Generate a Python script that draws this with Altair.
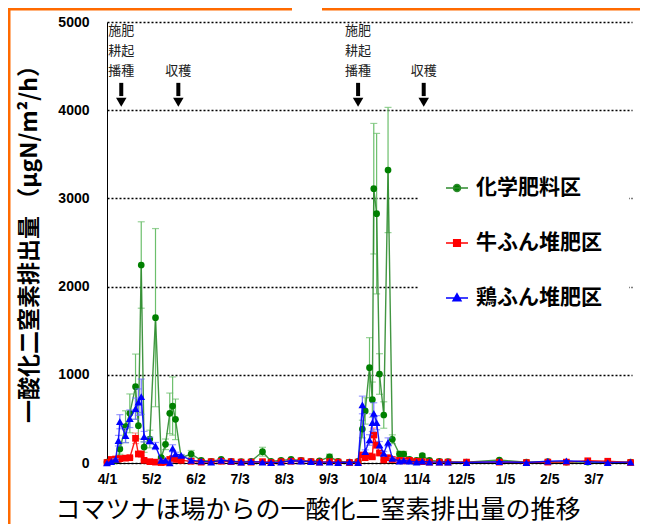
import altair as alt
import pandas as pd

# ---------------- data ----------------
days = [0, 3, 6, 8, 9, 13, 16, 20, 22, 24, 26, 30, 34, 38, 41, 44, 46, 48, 52, 59,
        66, 73, 80, 87, 94, 101, 109, 115, 122, 129, 136, 143, 149, 156, 162, 170,
        176, 179, 181, 184, 186, 187, 189, 191, 194, 197, 200, 205, 208, 212, 217,
        221, 226, 233, 239, 252, 275, 294, 309, 322, 337, 351, 367]

chem = [10, 20, 30, 40, 159, 412, 563, 865, 423, 2245, 181, 272, 1648, 60, 212,
        563, 646, 495, 60, 102, 30, 20, 40, 20, 15, 20, 128, 20, 30, 40,
        30, 20, 25, 70, 20, 10, 20, 385, 590, 1081, 718, 3110, 2827, 1009, 544,
        3322, 269, 102, 102, 40, 30, 83, 30, 20, 15, 10, 34, 10, 15, 10,
        10, 10, 10]
chem_err = [0, 0, 0, 10, 60, 180, 220, 370, 150, 490, 60, 100, 1010, 10, 60,
            230, 330, 230, 30, 40, 10, 10, 10, 10, 0, 0, 50, 0, 10, 10,
            10, 10, 10, 30, 10, 0, 10, 100, 150, 340, 200, 740, 910, 230, 150,
            710, 50, 30, 30, 10, 10, 20, 10, 10, 0, 0, 10, 0, 0, 0,
            0, 0, 0]

cow = [5, 40, 45, 45, 50, 55, 60, 280, 102, 102, 30, 15, 10, 5, 10,
       40, 50, 40, 30, 20, 10, 15, 20, 15, 10, 10, 15, 5, 15, 20,
       25, 15, 10, 15, 10, 5, 10, 91, 60, 80, 70, 317, 204, 113, 34,
       60, 40, 30, 25, 30, 20, 15, 10, 10, 10, 10, 10, 5, 10, 10,
       25, 20, 5]
cow_err = [0, 5, 5, 5, 5, 5, 10, 60, 20, 20, 5, 0, 0, 0, 0,
           10, 10, 10, 5, 5, 0, 0, 5, 0, 0, 0, 0, 0, 0, 5,
           5, 0, 0, 0, 0, 0, 0, 20, 10, 20, 15, 80, 40, 20, 5,
           10, 5, 5, 5, 5, 0, 0, 0, 0, 0, 0, 0, 0, 0, 0,
           5, 0, 0]

chicken = [0, 15, 40, 253, 468, 310, 502, 616, 690, 752, 298, 253, 193, 30, 30,
           0, 167, 102, 87, 30, 20, 10, 30, 20, 10, 15, 10, 5, 10, 25,
           20, 15, 10, 10, 5, 10, 5, 658, 128, 261, 457, 563, 457, 204, 110,
           235, 53, 20, 30, 20, 10, 20, 10, 10, 10, 5, 15, 5, 20, 25,
           15, 5, 10]
chicken_err = [0, 0, 10, 60, 80, 80, 100, 120, 150, 200, 60, 40, 40, 5, 5,
               10, 40, 20, 10, 5, 0, 0, 5, 0, 0, 0, 0, 0, 0, 5,
               5, 0, 0, 0, 0, 0, 0, 100, 20, 60, 100, 120, 80, 40, 20,
               50, 10, 5, 5, 0, 0, 0, 0, 0, 0, 0, 0, 0, 0, 0,
               0, 0, 0]

series_names = ["化学肥料区", "牛ふん堆肥区", "鶏ふん堆肥区"]
tick_days = [0, 31, 62, 93, 124, 155, 186, 217, 248, 279, 310, 341]
tick_labels = ["4/1", "5/2", "6/2", "7/3", "8/3", "9/3", "10/4", "11/4", "12/5", "1/5", "2/5", "3/7"]
y_ticks = [0, 1000, 2000, 3000, 4000, 5000]

# annotations: arrows (施肥・耕起・播種 / 収穫)
arrow_days = [10, 50, 176, 222]
ann_text = ["施肥", "耕起", "播種", "収穫", "施肥", "耕起", "播種", "収穫"]
ann_day = [10, 10, 10, 50, 176, 176, 176, 222]
ann_val = [4900, 4670, 4440, 4440, 4900, 4670, 4440, 4440]

chart_title = "コマツナほ場からの一酸化二窒素排出量の推移"
y_title = "一酸化二窒素排出量 （μgN/m²/h）"

# ---------------- styles ----------------
line_colors = ["#2e8b2e", "#ff0000", "#0000ff"]
marker_colors = ["#008000", "#ff0000", "#0000ff"]
err_colors = ["#6cbf6c", "#ff7070", "#7070ff"]
shapes = ["circle", "square", "triangle-up"]
sizes = [45, 45, 60]
legend_paths = [
    "M-1,0H1M0.32,0A0.32,0.32,0,1,1,-0.32,0A0.32,0.32,0,1,1,0.32,0Z",
    "M-1,0H1M-0.3,-0.3H0.3V0.3H-0.3Z",
    "M-1,0H1M0,-0.38L0.36,0.26H-0.36Z",
]

rows = []
for name, vals, errs in zip(series_names, [chem, cow, chicken], [chem_err, cow_err, chicken_err]):
    for d, v, e in zip(days, vals, errs):
        rows.append({"series": name, "day": d, "value": v, "err": e,
                     "lo": max(0, v - e), "hi": v + e})
df = pd.DataFrame(rows)

label_js = "[" + ",".join("'" + t + "'" for t in tick_labels) + "]"

xaxis = alt.Axis(values=tick_days, labelExpr=label_js + "[round(datum.value / 31)]",
                 title=None, grid=False, ticks=False, domainColor="black", domainWidth=1,
                 labelFont="Liberation Sans", labelFontWeight="bold", labelFontSize=14,
                 labelColor="black", labelPadding=9, labelFlush=False, labelOverlap=False)
yaxis = alt.Axis(values=y_ticks, format="d", title=y_title, grid=True, gridColor="black",
                 gridDash=[2, 2], gridWidth=1.3, gridOpacity=1, ticks=False,
                 domainColor="black", domainWidth=1,
                 labelFont="Liberation Sans", labelFontWeight="bold", labelFontSize=14,
                 labelColor="black", labelPadding=18,
                 titleFont="Noto Sans CJK JP", titleFontWeight="bold", titleFontSize=23,
                 titleColor="black", titleX=-78, titleY=216, titleAngle=-90,
                 titleAlign="center", titleBaseline="middle")

xscale = alt.Scale(domain=[0, 368], nice=False, zero=False)
yscale = alt.Scale(domain=[0, 5000], nice=False)
X = alt.X("day:Q", scale=xscale, axis=xaxis)


def Yf(field):
    return alt.Y(field + ":Q", scale=yscale, axis=yaxis)


layers = []

# decorative orange frame (edge of the slide)
dummy = pd.DataFrame({"k": [0]})
frame_specs = [
    dict(x=alt.value(-98), y=alt.value(-14), y2=alt.value(510)),
    dict(x=alt.value(-99), x2=alt.value(185), y=alt.value(-13)),
    dict(x=alt.value(215), x2=alt.value(540), y=alt.value(-13)),
]
for spec in frame_specs:
    layers.append(alt.Chart(dummy).mark_rule(color="#ff6a00", strokeWidth=3).encode(**spec))

for i, name in enumerate(series_names):
    base = alt.Chart(df).transform_filter(alt.datum.series == name)
    errd = base.transform_filter(alt.datum.err > 0)
    layers.append(errd.mark_rule(color=err_colors[i], strokeWidth=1.2).encode(
        x=X, y=Yf("lo"), y2="hi:Q"))
    layers.append(errd.mark_tick(color=err_colors[i], orient="horizontal", size=7, thickness=1.2).encode(
        x=X, y=Yf("hi")))
    layers.append(errd.mark_tick(color=err_colors[i], orient="horizontal", size=7, thickness=1.2).encode(
        x=X, y=Yf("lo")))
    layers.append(base.mark_line(color=line_colors[i], strokeWidth=1.4, opacity=0.9).encode(
        x=X, y=Yf("value"), order="day:Q"))
    layers.append(base.mark_point(filled=True, opacity=1, color=marker_colors[i],
                                  shape=shapes[i], size=sizes[i]).encode(x=X, y=Yf("value")))

# arrows
arr = pd.DataFrame({"day": arrow_days, "value": [4310] * 4, "value2": [4160] * 4, "tip": [4090] * 4})
layers.append(alt.Chart(arr).mark_rule(color="black", strokeWidth=4).encode(
    x=X, y=Yf("value"), y2="value2:Q"))
layers.append(alt.Chart(arr).mark_point(shape="triangle-down", filled=True, color="black",
                                        size=110, opacity=1).encode(x=X, y=Yf("tip")))

ann = pd.DataFrame({"day": ann_day, "value": ann_val, "text": ann_text})
layers.append(alt.Chart(ann).mark_text(font="Noto Sans CJK JP", fontSize=13, color="#222222",
                                       align="center", baseline="middle").encode(
    x=X, y=Yf("value"), text="text:N"))

# bottom caption
cap = pd.DataFrame({"t": [chart_title]})
layers.append(alt.Chart(cap).mark_text(font="Noto Sans CJK JP", fontSize=25, color="black",
                                       align="center", baseline="middle").encode(
    x=alt.value(211), y=alt.value(488), text="t:N"))

# legend-only layer
legend_kw = dict(title=None, orient="none", legendX=311, legendY=127, padding=27,
                 fillColor="white", symbolSize=484, symbolStrokeWidth=1.5, symbolOpacity=1,
                 labelFont="Noto Sans CJK JP", labelFontSize=21, labelFontWeight="bold",
                 labelColor="black", labelOffset=7, rowPadding=33,
                 labelExpr="datum.label + '　'", labelLimit=300)
layers.append(alt.Chart(df).transform_filter("false").mark_point(filled=True).encode(
    x=X, y=Yf("value"),
    fill=alt.Fill("series:N", scale=alt.Scale(domain=series_names, range=marker_colors),
                  legend=alt.Legend(**legend_kw)),
    stroke=alt.Stroke("series:N", scale=alt.Scale(domain=series_names, range=line_colors),
                      legend=alt.Legend(**legend_kw)),
    shape=alt.Shape("series:N", scale=alt.Scale(domain=series_names, range=legend_paths),
                    legend=alt.Legend(**legend_kw)),
))

chart = alt.layer(*layers).properties(
    width=525, height=441,
    padding={"left": 99, "top": 14, "right": 8, "bottom": 61},
    autosize=alt.AutoSizeParams(type="none"),
    background="white",
).configure_view(stroke=None)

chart.save("out.html", embed_options={"renderer": "svg", "actions": False})
